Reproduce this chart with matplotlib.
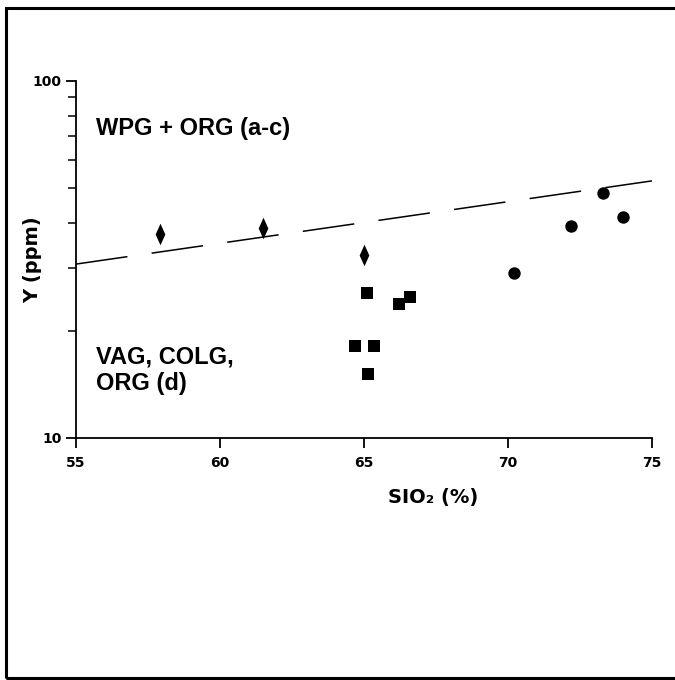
import matplotlib
matplotlib.use('Agg')
import matplotlib.pyplot as plt
from matplotlib.patches import Rectangle
from matplotlib.ticker import FixedLocator, NullFormatter

plt.rcParams['font.family'] = ['Liberation Sans', 'DejaVu Sans']
plt.rcParams['font.weight'] = 'bold'

# diamonds
dia_x = [57.9, 61.5, 65.0]
dia_y = [37.3, 38.7, 32.6]
# squares
sq_x = [65.1, 66.2, 66.6, 64.7, 65.35, 65.15]
sq_y = [25.5, 23.7, 24.8, 18.1, 18.1, 15.1]
# circles
ci_x = [70.2, 72.2, 73.3, 74.0]
ci_y = [29.0, 39.3, 48.5, 41.6]
# dividing line
line_x = [55, 75]
line_y = [30.7, 52.5]

xticks = [55, 60, 65, 70, 75]
yticks = [10, 100]
yminor = [20, 30, 40, 50, 60, 70, 80, 90]

fig = plt.figure(figsize=(6.75, 6.8), dpi=100)
fig.patches.append(Rectangle((0.009, 0.003), 1.2, 0.985, transform=fig.transFigure,
                             fill=False, lw=2.2, ec='black'))
ax = fig.add_axes([0.1126, 0.3559, 0.8533, 0.525])

ax.set_yscale('log')
ax.set_xlim(55, 75)
ax.set_ylim(10, 100)

ax.plot(line_x, line_y, color='black', lw=1.1, dashes=(34, 16))
diamond = [(0, 1), (0.45, 0), (0, -1), (-0.45, 0), (0, 1)]
ax.scatter(dia_x, dia_y, marker=diamond, s=240, color='black', lw=0)
ax.scatter(sq_x, sq_y, marker='s', s=85, color='black', lw=0)
ax.scatter(ci_x, ci_y, marker='o', s=80, color='black', lw=0)

ax.spines['top'].set_visible(False)
ax.spines['right'].set_visible(False)
ax.spines['left'].set_linewidth(1.3)
ax.spines['bottom'].set_linewidth(1.3)

ax.set_xticks(xticks)
ax.set_xticklabels([str(v) for v in xticks])
ax.yaxis.set_major_locator(FixedLocator(yticks))
ax.set_yticklabels([str(v) for v in yticks])
ax.yaxis.set_minor_locator(FixedLocator(yminor))
ax.yaxis.set_minor_formatter(NullFormatter())
ax.tick_params(axis='x', which='major', length=7, width=1.3, pad=6)
ax.tick_params(axis='y', which='major', length=7, width=1.3, pad=3.5)
ax.tick_params(axis='y', which='minor', length=6, width=1.1)
for lab in ax.get_xticklabels() + ax.get_yticklabels():
    lab.set_family('DejaVu Sans')
    lab.set_fontsize(10)
    lab.set_fontweight('bold')

ax.set_xlabel('SIO₂ (%)', fontsize=14, fontweight='bold', family='DejaVu Sans')
ax.xaxis.set_label_coords(0.62, -0.14)
ax.set_ylabel('Y (ppm)', fontsize=14, fontweight='bold', family='DejaVu Sans')
ax.yaxis.set_label_coords(-0.059, 0.5)

ax.text(0.035, 0.868, 'WPG + ORG (a-c)', transform=ax.transAxes, fontsize=17,
        fontweight='bold', va='center')
ax.text(0.035, 0.19, 'VAG, COLG,\nORG (d)', transform=ax.transAxes, fontsize=17,
        fontweight='bold', va='center', linespacing=1.15)

fig.savefig('out.png', dpi=100)
